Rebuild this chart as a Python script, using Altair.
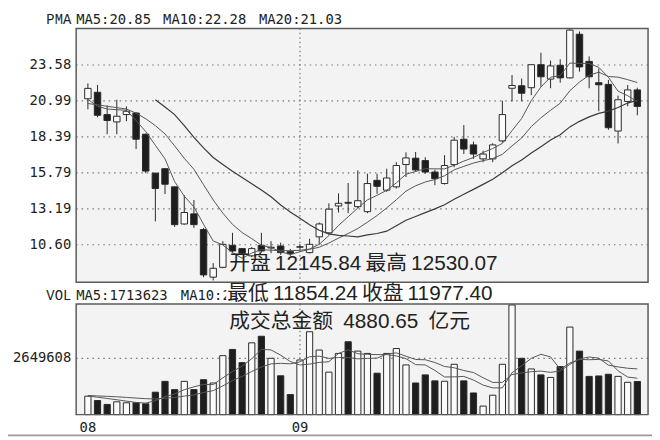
import altair as alt
import pandas as pd

# ---------------- data ----------------
idx = list(range(58))
open_ = [21.14, 21.61, 20.00, 19.47, 20.00, 20.11, 18.58, 15.77, 16.09, 14.78,
         12.10, 12.83, 11.70, 8.26, 8.97, 10.56, 10.32, 9.80, 10.56, 10.37,
         10.51, 10.10, 10.42, 10.03, 11.17, 11.46, 13.40, 13.66, 13.35, 12.99,
         15.25, 14.54, 14.78, 16.39, 16.85, 16.68, 15.85, 15.02, 16.39, 18.22,
         17.81, 16.80, 16.80, 18.10, 21.90, 22.08, 21.94, 23.60, 22.56, 23.56,
         22.65, 25.80, 23.84, 22.30, 22.18, 18.81, 20.95, 21.78]
high = [22.25, 22.14, 20.66, 21.07, 20.59, 20.19, 18.62, 15.80, 16.12, 14.80,
        14.18, 13.83, 11.82, 9.27, 10.86, 11.46, 10.35, 10.44, 11.46, 10.86,
        10.75, 10.30, 10.62, 11.03, 12.21, 13.59, 14.31, 15.06, 15.97, 15.73,
        15.73, 16.09, 16.56, 17.27, 17.30, 16.92, 16.02, 17.07, 18.39, 19.24,
        18.05, 17.39, 17.93, 21.00, 22.85, 22.60, 23.60, 24.46, 23.90, 24.00,
        26.20, 26.00, 24.20, 23.32, 22.50, 21.37, 22.13, 21.94]
low = [20.38, 19.81, 18.58, 18.58, 19.52, 17.51, 15.77, 12.29, 14.26, 11.89,
       12.05, 11.82, 8.26, 8.02, 8.90, 10.03, 9.87, 9.71, 10.03, 9.99,
       9.87, 9.80, 10.20, 9.98, 10.63, 11.34, 12.93, 12.88, 13.24, 12.88,
       14.28, 14.42, 14.66, 15.49, 15.90, 15.73, 14.90, 14.95, 16.20, 17.15,
       16.80, 16.56, 16.56, 17.98, 20.95, 20.95, 21.40, 22.02, 21.90, 22.30,
       22.60, 23.10, 21.90, 20.24, 18.90, 17.91, 20.60, 19.95]
close = [21.89, 19.95, 19.57, 19.88, 20.24, 18.22, 15.92, 14.66, 14.97, 12.05,
         12.93, 12.05, 8.42, 8.90, 10.63, 10.15, 9.99, 10.32, 10.15, 10.42,
         10.03, 9.95, 10.46, 10.63, 12.10, 13.17, 13.59, 13.60, 13.78, 15.02,
         14.82, 15.42, 16.32, 16.87, 16.00, 15.85, 15.37, 16.32, 18.15, 17.51,
         17.15, 17.15, 17.81, 20.00, 22.10, 21.54, 23.60, 22.73, 23.51, 22.65,
         26.10, 23.44, 22.73, 22.15, 19.05, 21.07, 21.78, 20.59]
volume = [869000, 665000, 480000, 604000, 558000, 558000, 511000, 1055000, 1566000, 1178000,
          1566000, 1178000, 1643000, 1488000, 2775000, 3068000, 2448000, 3378000, 3688000, 2650000,
          1828000, 945000, 2572000, 3900000, 3040000, 2000000, 2880000, 3430000, 2990000, 2880000,
          1950000, 2880000, 3110000, 2340000, 1490000, 1870000, 1590000, 1570000, 2370000, 1590000,
          1020000, 403000, 914000, 2370000, 5160000, 2650000, 2150000, 1870000, 1750000, 2260000,
          4120000, 2990000, 1800000, 1820000, 1900000, 1800000, 1520000, 1560000]

ma5 = [21.10, 20.60, 20.40, 20.35, 20.31, 19.57, 18.77, 17.78, 16.80, 15.16,
       14.11, 13.33, 12.08, 10.87, 10.59, 10.03, 9.62, 10.00, 10.25, 10.20,
       10.18, 10.17, 10.20, 10.29, 10.63, 11.26, 11.99, 12.62, 13.25, 13.84,
       14.17, 14.53, 15.07, 15.69, 15.89, 16.09, 16.08, 16.08, 16.34, 16.64,
       16.90, 17.26, 17.55, 17.92, 18.84, 19.72, 21.01, 21.99, 22.70, 22.81,
       23.72, 23.69, 23.69, 23.41, 22.69, 21.69, 21.36, 20.93]
ma10 = [20.80, 20.70, 20.60, 20.50, 20.40, 20.10, 19.70, 19.20, 18.60, 17.74,
        16.84, 16.05, 14.93, 13.84, 12.88, 12.07, 11.48, 11.04, 10.56, 10.39,
        10.10, 9.89, 10.10, 10.27, 10.42, 10.72, 11.08, 11.41, 11.77, 12.23,
        12.71, 13.26, 13.85, 14.47, 14.86, 15.13, 15.31, 15.58, 16.01, 16.26,
        16.50, 16.67, 16.82, 17.13, 17.74, 18.31, 19.13, 19.77, 20.31, 20.82,
        21.72, 22.35, 22.84, 23.06, 22.75, 22.70, 22.52, 22.31]
ma20 = [None, None, None, None, None, None, None, 21.07, 20.55, 20.00,
        19.20, 18.35, 17.60, 16.90, 16.40, 15.90, 15.45, 15.00, 14.55, 14.06,
        13.47, 12.97, 12.52, 12.05, 11.65, 11.39, 11.28, 11.23, 11.17, 11.31,
        11.41, 11.58, 11.97, 12.37, 12.64, 12.92, 13.19, 13.49, 13.89, 14.25,
        14.60, 14.96, 15.33, 15.80, 16.30, 16.72, 17.22, 17.68, 18.16, 18.54,
        19.11, 19.51, 19.83, 20.09, 20.25, 20.51, 20.83, 21.04]
vma5 = [880000, 820000, 760000, 700000, 635000, 573000, 542000, 657000, 850000, 974000,
        1175000, 1309000, 1426000, 1411000, 1730000, 2030000, 2284000, 2631000, 3071000, 3046000,
        2798000, 2498000, 2337000, 2379000, 2457000, 2491000, 2878000, 3050000, 2868000, 2836000,
        2826000, 2826000, 2762000, 2632000, 2354000, 2338000, 2080000, 1772000, 1778000, 1798000,
        1628000, 1391000, 1259000, 1259000, 1973000, 2299000, 2649000, 2840000, 2716000, 2136000,
        2430000, 2598000, 2584000, 2598000, 2526000, 2062000, 1768000, 1714000]
vma10 = [900000, 880000, 860000, 840000, 810000, 780000, 750000, 740000, 770000, 804000,
         874000, 925000, 1042000, 1130000, 1352000, 1603000, 1797000, 2029000, 2241000, 2388000,
         2414000, 2391000, 2484000, 2725000, 2752000, 2645000, 2688000, 2693000, 2624000, 2647000,
         2659000, 2852000, 2906000, 2750000, 2595000, 2582000, 2453000, 2267000, 2205000, 2076000,
         1983000, 1735000, 1516000, 1519000, 1886000, 1964000, 2020000, 2050000, 1988000, 2055000,
         2365000, 2623000, 2712000, 2657000, 2331000, 2246000, 2183000, 2152000]

price_ticks = [10.60, 13.19, 15.79, 18.39, 20.99, 23.58]
price_tick_labels = ["10.60", "13.19", "15.79", "18.39", "20.99", "23.58"]
vol_ticks = [2649608]
vol_tick_labels = ["2649608"]
month_idx = [0, 22]
month_labels = ["08", "09"]

# ---------------- tables ----------------
df = pd.DataFrame({"i": idx, "open": open_, "high": high, "low": low,
                   "close": close, "vol": volume})
df["v0"] = 0
ptick_df = pd.DataFrame({"v": price_ticks, "label": price_tick_labels})
vtick_df = pd.DataFrame({"v": vol_ticks, "label": vol_tick_labels})
month_df = pd.DataFrame({"i": month_idx, "lab": month_labels})
one = pd.DataFrame({"k": [0]})

W = 579
PH = 257          # price panel bottom (plot coords)
VT, VB = 279, 391  # volume panel top / bottom

X = alt.Scale(domain=[-0.705, 57.6], nice=False, zero=False)
YP = alt.Scale(domain=[7.89, 26.22], range=[PH, 0], nice=False, zero=False)
YV = alt.Scale(domain=[0, 5206000], range=[VB, VT], nice=False, zero=False)

xenc = alt.X("i:Q", scale=X, axis=None)
up_fill = alt.condition("datum.close >= datum.open", alt.value("#fbfbfb"), alt.value("#1e1e1e"))

MONO = "DejaVu Sans Mono"
CJK = "Liberation Sans, Noto Sans CJK SC"
INK = "#222222"

layers = []

# panel backgrounds
for y0, y1 in [(0, PH), (VT, VB)]:
    layers.append(alt.Chart(one).mark_rect(fill="#f3f3f3").encode(
        x=alt.value(0), x2=alt.value(W), y=alt.value(y0), y2=alt.value(y1)))

# dotted grid lines
layers.append(alt.Chart(ptick_df).mark_rule(color="#777777", strokeDash=[1.5, 4], strokeWidth=1.2).encode(
    x=alt.value(0), x2=alt.value(W), y=alt.Y("v:Q", scale=YP, axis=None)))
layers.append(alt.Chart(vtick_df).mark_rule(color="#777777", strokeDash=[1.5, 4], strokeWidth=1.2).encode(
    x=alt.value(0), x2=alt.value(W), y=alt.Y("v:Q", scale=YV, axis=None)))
month_line = month_df[month_df["i"] > 0]
for y0, y1 in [(0, PH), (VT, VB)]:
    layers.append(alt.Chart(month_line).mark_rule(color="#777777", strokeDash=[1.5, 3], strokeWidth=1.2).encode(
        x=xenc, y=alt.value(y0), y2=alt.value(y1)))

# candles
layers.append(alt.Chart(df).mark_rule(color="#2a2a2a", strokeWidth=1).encode(
    x=xenc, y=alt.Y("low:Q", scale=YP, axis=None), y2="high:Q"))
layers.append(alt.Chart(df).mark_bar(size=6.5, stroke="#2a2a2a", strokeWidth=1).encode(
    x=xenc, y=alt.Y("open:Q", scale=YP, axis=None), y2="close:Q", fill=up_fill))

# price moving averages
ma_styles = [(ma5, "#555555", 1.0), (ma10, "#555555", 1.0), (ma20, "#3a3a3a", 1.2)]
for vals, col, sw in ma_styles:
    d = pd.DataFrame({"i": idx, "v": vals}).dropna()
    layers.append(alt.Chart(d).mark_line(color=col, strokeWidth=sw).encode(
        x=xenc, y=alt.Y("v:Q", scale=YP, axis=None)))

# volume bars
layers.append(alt.Chart(df).mark_bar(size=6.3, stroke="#2a2a2a", strokeWidth=1).encode(
    x=xenc, y=alt.Y("vol:Q", scale=YV, axis=None), y2="v0:Q", fill=up_fill))
for vals in [vma5, vma10]:
    d = pd.DataFrame({"i": idx, "v": vals})
    layers.append(alt.Chart(d).mark_line(color="#555555", strokeWidth=1).encode(
        x=xenc, y=alt.Y("v:Q", scale=YV, axis=None)))

# panel frames
for y0, y1 in [(0, PH), (VT, VB)]:
    layers.append(alt.Chart(one).mark_rect(fillOpacity=0, stroke="#5a5a5a", strokeWidth=1.5).encode(
        x=alt.value(0), x2=alt.value(W), y=alt.value(y0), y2=alt.value(y1)))

# axis labels
layers.append(alt.Chart(ptick_df).mark_text(align="right", baseline="middle", font=MONO,
                                            fontSize=14, color=INK).encode(
    x=alt.value(-5), y=alt.Y("v:Q", scale=YP, axis=None), text="label:N"))
layers.append(alt.Chart(vtick_df).mark_text(align="right", baseline="middle", font=MONO,
                                            fontSize=14, color=INK).encode(
    x=alt.value(-5), y=alt.Y("v:Q", scale=YV, axis=None), text="label:N"))
layers.append(alt.Chart(month_df).mark_text(align="center", baseline="middle", font=MONO,
                                            fontSize=14, color=INK).encode(
    x=xenc, y=alt.value(405), text="lab:N"))

# header legends
def label(txt, x, y, font=MONO, size=14, align="left", weight="normal"):
    return alt.Chart(one).mark_text(align=align, baseline="middle", font=font, fontSize=size,
                                    color=INK, fontWeight=weight).encode(
        x=alt.value(x), y=alt.value(y), text=alt.value(txt))

layers.append(label("PMA", -5, -8.5, font="Liberation Mono", align="right"))
layers.append(label("MA5:20.85", 0, -8.5))
layers.append(label("MA10:22.28", 88, -8.5))
layers.append(label("MA20:21.03", 185, -8.5))
layers.append(label("VOL", -5, 271, font="Liberation Mono", align="right"))
layers.append(label("MA5:1713623", 0, 271))
layers.append(label("MA10:2", 106, 271))

# white box behind the second overlay line
layers.append(alt.Chart(one).mark_rect(fill="white").encode(
    x=alt.value(152), x2=alt.value(423), y=alt.value(259), y2=alt.value(278)))

# overlay summary text
TS = "\u2009"
ES = "\u2002"
layers.append(label("开盘" + TS + "12145.84" + TS + "最高" + TS + "12530.07", 155, 239, font=CJK, size=21))
layers.append(label("最低" + TS + "11854.24" + TS + "收盘" + TS + "11977.40", 153, 269, font=CJK, size=21))
layers.append(label("成交总金额" + ES + "4880.65" + ES + "亿元", 155, 297.5, font=CJK, size=21))

# bottom border line
layers.append(alt.Chart(one).mark_rule(color="#9a9a9a", strokeWidth=2).encode(
    x=alt.value(-69), x2=alt.value(583), y=alt.value(412)))

chart = alt.layer(*layers).resolve_scale(y="independent").properties(
    width=W, height=VB,
    autosize=alt.AutoSizeParams(type="none"),
    padding={"left": 69, "top": 18, "right": 4, "bottom": 23},
    background="white",
).configure_view(stroke=None)

chart.save("out.html", embed_options={"renderer": "svg", "actions": False})
